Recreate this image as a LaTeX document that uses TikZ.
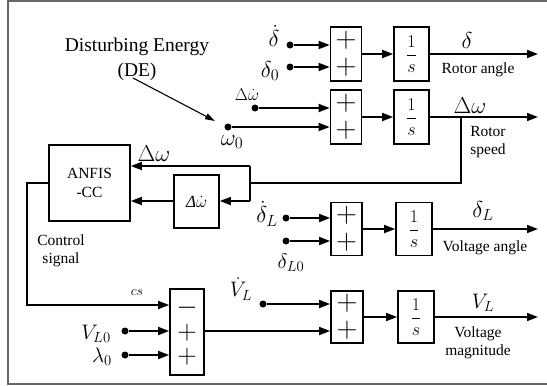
\RequirePackage{fix-cm}
\documentclass[tikz,border=0pt]{standalone}
\usepackage{fontspec}
\setmainfont{Liberation Serif}
\usetikzlibrary{arrows.meta}
\begin{document}
\begin{tikzpicture}[x=1pt,y=-1pt,
  sumbox/.style={draw,line width=1.7pt,minimum width=31pt,minimum height=54pt,inner sep=0pt,align=center,font=\fontsize{29}{27}\selectfont},
  intbox/.style={draw,line width=1.7pt,minimum width=35pt,minimum height=54pt,inner sep=0pt,font=\fontsize{18}{20}\selectfont},
  plainbox/.style={draw,line width=1.7pt,inner sep=0pt,align=center},
  arr/.style={line width=1.7pt,-{Triangle[length=11pt,width=8pt]}},
  thinarr/.style={line width=1.1pt,-{Triangle[length=10pt,width=6pt]}},
  ln/.style={line width=1.7pt},
  dot/.style={circle,fill,inner sep=0pt,minimum size=7pt},
  lbl/.style={font=\fontsize{15.5}{18.5}\selectfont,align=center,inner sep=0pt},
  mlbl/.style={font=\fontsize{23}{26}\selectfont,inner sep=0pt},
  slbl/.style={font=\fontsize{17}{20}\selectfont,inner sep=0pt}
]
\useasboundingbox (0,0) rectangle (547,386);
% frame
\draw[line width=1.6pt,black!60] (549,1) -- (8,1) -- (8,384) -- (549,384);

% boxes
\node[sumbox] (s1) at (346,54) {$+$\\$+$};
\node[intbox] (i1) at (411.5,54) {$\displaystyle\frac{1}{s}$};
\node[sumbox] (s2) at (346,117) {$+$\\$+$};
\node[intbox] (i2) at (411.5,117) {$\displaystyle\frac{1}{s}$};
\node[sumbox,minimum height=53pt] (s3) at (346.5,229) {$+$\\$+$};
\node[intbox,minimum width=36pt,minimum height=53pt] (i3) at (414,229) {$\displaystyle\frac{1}{s}$};
\node[sumbox,minimum width=32pt,minimum height=52pt] (s4) at (347,317) {$+$\\$+$};
\node[intbox,minimum width=36pt,minimum height=52pt] (i4) at (416,317) {$\displaystyle\frac{1}{s}$};
\node[sumbox,minimum width=34pt,minimum height=86pt,font=\fontsize{27}{24.5}\selectfont] (b3) at (187,332) {$-$\\$+$\\$+$};
\node[plainbox,minimum width=81pt,minimum height=76pt,font=\fontsize{15.5}{19}\selectfont] (anfis) at (89.5,183) {ANFIS\\-CC};
\node[plainbox,minimum width=45pt,minimum height=53pt,font=\fontsize{17}{19}\selectfont] (dw) at (196.5,201.5) {\textit{Δ}$\dot{\omega}$};

% dots
\node[dot] (dA) at (290,45) {};
\node[dot] (dB) at (290,67) {};
\node[dot] (dC) at (255,108) {};
\node[dot] (dD) at (228,127) {};
\node[dot] (dE) at (286,218) {};
\node[dot] (dF) at (286,241) {};
\node[dot] (dG) at (263,304) {};
\node[dot] (dH) at (125,331) {};
\node[dot] (dI) at (125,355) {};

% input arrows
\draw[arr] (dA) -- (dA -| s1.west);
\draw[arr] (dB) -- (dB -| s1.west);
\draw[arr] (dC) -- (dC -| s2.west);
\draw[arr] (dD) -- (dD -| s2.west);
\draw[arr] (dE) -- (dE -| s3.west);
\draw[arr] (dF) -- (dF -| s3.west);
\draw[arr] (dG) -- (dG -| s4.west);
\draw[arr] (dH) -- (dH -| b3.west);
\draw[arr] (dI) -- (dI -| b3.west);

% sum -> integrator
\draw[arr] (s1) -- (i1);
\draw[arr] (s2) -- (i2);
\draw[arr] (s3) -- (i3);
\draw[arr] (s4) -- (i4);

% outputs
\coordinate (o1) at (538,54);
\coordinate (o2) at (538,117);
\coordinate (o3) at (538,229);
\coordinate (o4) at (538,317);
\draw[arr] (i1) -- (o1);
\draw[arr] (i2) -- (o2);
\draw[arr] (i3) -- (o3);
\draw[arr] (i4) -- (o4);

% feedback of rotor speed
\coordinate (br) at (461,117);
\coordinate (c1) at (461,183);
\coordinate (c2) at (250,183);
\coordinate (c3) at (250,166);
\coordinate (c4) at (250,201);
\draw[ln] (br) -- (c1) -- (c2);
\draw[ln] (c3) -- (c4);
\draw[arr] (c3) -- (c3 -| anfis.east);
\draw[arr] (c4) -- (c4 -| dw.east);
\draw[arr] (c4 -| dw.west) -- (c4 -| anfis.east);

% control signal
\coordinate (k1) at (27,183);
\coordinate (k2) at (27,305);
\draw[arr] (anfis.west |- k1) -- (k1) -- (k2) -- (k2 -| b3.west);
\draw[arr] (b3.east |- dH) -- (dH -| s4.west);

% disturbing energy
\node[lbl,font=\fontsize{19.5}{25}\selectfont] (de) at (137,59) {Disturbing Energy\\(DE)};
\coordinate (deS) at (133,78);
\coordinate (deE) at (215,121);
\draw[thinarr] (deS) -- (deE);

% math labels
\node[mlbl] (lA) at (274,36) {$\dot\delta$};
\node[mlbl] (lB) at (270,71) {$\delta_0$};
\node[slbl] (lC) at (247,95) {$\Delta\dot\omega$};
\node[mlbl] (lD) at (232,142) {$\omega_0$};
\node[mlbl] (lE) at (267,214) {$\dot\delta_L$};
\node[mlbl,font=\fontsize{21}{24}\selectfont] (lF) at (291,263) {$\delta_{L0}$};
\node[mlbl,font=\fontsize{21}{24}\selectfont] (lG) at (241,289) {$\dot V_L$};
\node[mlbl,font=\fontsize{21}{24}\selectfont] (lH) at (96,334) {$V_{L0}$};
\node[mlbl,font=\fontsize{21}{24}\selectfont] (lI) at (102,357) {$\lambda_0$};
\node[mlbl,font=\fontsize{14}{16}\selectfont] (cs) at (137,292) {$cs$};
\node[mlbl] (oA) at (467,41) {$\delta$};
\node[mlbl] (oB) at (470,106) {$\Delta\omega$};
\node[mlbl] (oC) at (483,211) {$\delta_L$};
\node[mlbl,font=\fontsize{21}{24}\selectfont] (oD) at (483,303) {$V_L$};
\node[mlbl] (aw) at (154,154) {$\Delta\omega$};

% text labels
\node[lbl] (t1) at (478,70) {Rotor angle};
\node[lbl] (t2) at (488,142) {Rotor\\speed};
\node[lbl] (t3) at (485,248) {Voltage angle};
\node[lbl] (t4) at (478,343) {Voltage\\magnitude};
\node[lbl] (t5) at (61,251) {Control\\signal};
\end{tikzpicture}
\end{document}
